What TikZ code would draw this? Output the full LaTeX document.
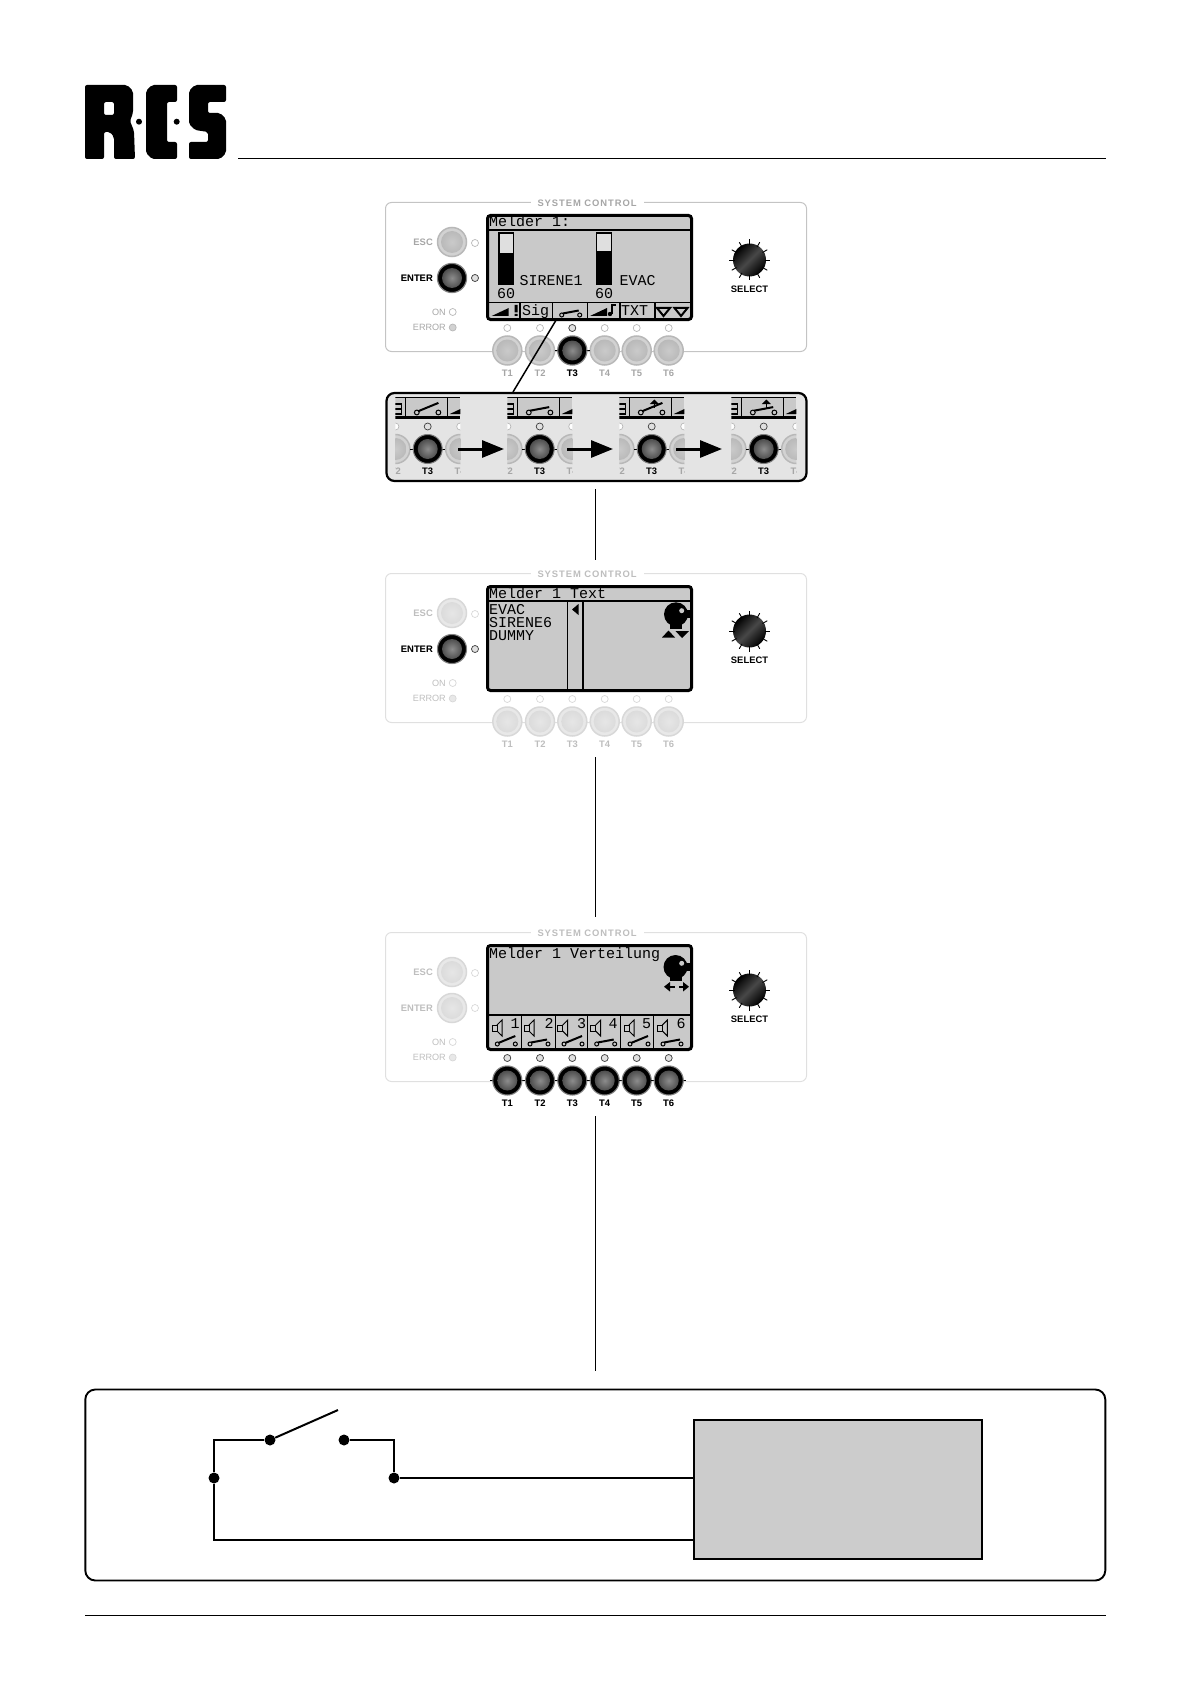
\documentclass[tikz,border=0pt]{standalone}
\usepackage{fontspec}
\setmainfont{Liberation Sans}
\newfontfamily\lcdfont{Liberation Mono}
\newfontfamily\spacedfont[LetterSpace=10]{Liberation Sans}
\usepackage{xcolor}
\usetikzlibrary{arrows.meta,positioning}
\definecolor{lcdgray}{HTML}{C9C9C9}
\definecolor{zoomgray}{HTML}{E4E4E4}
\definecolor{relaygray}{HTML}{CCCCCC}
\definecolor{ghostAline}{HTML}{C4C4C4}
\definecolor{ghostAtext}{HTML}{A6A6A6}
\definecolor{ghostAring}{HTML}{B8B8B8}
\definecolor{ghostApale}{HTML}{D2D2D2}
\definecolor{ghostAin}{HTML}{B4B4B4}
\definecolor{ghostAcore}{HTML}{CACACA}
\definecolor{ghostBline}{HTML}{E0E0E0}
\definecolor{ghostBtext}{HTML}{BEBEBE}
\definecolor{ghostBring}{HTML}{D8D8D8}
\definecolor{ghostBpale}{HTML}{E8E8E8}
\definecolor{ghostBin}{HTML}{D8D8D8}
\definecolor{ghostBcore}{HTML}{E6E6E6}
\tikzset{
  paneledge/.style={
    draw,
    rounded corners=6pt,
    line width=1pt,
    minimum width=421pt,
    minimum height=149pt,
    inner sep=0pt
  },
  paneltitle/.style={
    fill=white,
    inner xsep=7pt,
    inner ysep=0pt,
    font=\spacedfont\fontsize{9.4}{10}\selectfont\bfseries
  },
  lcdscreen/.style={
    draw=black,
    fill=lcdgray,
    rounded corners=3pt,
    line width=3pt,
    minimum width=204pt,
    minimum height=104pt,
    inner sep=0pt
  },
  lcdtext/.style={
    anchor=base west,
    inner sep=0pt,
    font=\lcdfont\fontsize{15}{15}\selectfont
  },
  keyoff/.style={
    circle,
    minimum size=29pt,
    inner sep=0pt,
    draw=ghost#1ring,
    line width=1.5pt,
    fill=ghost#1pale,
    path picture={\shade[inner color=ghost#1core,outer color=ghost#1in]
      (path picture bounding box.center) circle (11pt);}
  },
  keyon/.style={
    circle,
    minimum size=29pt,
    inner sep=0pt,
    draw=gray,
    line width=1pt,
    fill=black,
    path picture={\shade[inner color=gray!90,outer color=black!80]
      (path picture bounding box.center) circle (10pt);}
  },
  led/.style={
    circle,
    minimum size=7pt,
    inner sep=0pt,
    line width=0.7pt,
    fill=white
  },
  keylab/.style={
    inner sep=0pt,
    font=\fontsize{9.4}{10}\selectfont\bfseries
  },
  statelab/.style={
    inner sep=0pt,
    anchor=east,
    font=\fontsize{9.1}{10}\selectfont
  },
  knob/.style={
    circle,
    minimum size=33pt,
    inner sep=0pt,
    shading=axis,
    top color=black,
    bottom color=black,
    middle color=black!72,
    shading angle=45
  },
  wire/.style={line width=2pt, draw=black},
  dot/.style={circle, fill=black, inner sep=0pt, minimum size=11pt},
  flow/.style={-{Triangle[length=22pt,width=17pt]}, line width=3pt, draw=black},
  link/.style={line width=1pt, draw=black},
  swopen/.pic={
    \draw[line width=1pt] (0,0) circle (2) (18,0) circle (2);
    \draw[line width=2pt] (1,-1) -- (18,-8);
  },
  swshut/.pic={
    \draw[line width=1pt] (0,0) circle (2) (18,0) circle (2);
    \draw[line width=2pt] (1,-1.5) -- (17,-4.5);
  },
  liftmark/.pic={
    \draw[line width=1.6pt] (8,-5) -- (8,-9);
    \fill (3.5,-9) -- (12.5,-9) -- (8,-13.5) -- cycle;
  },
  rampicon/.pic={
    \fill (0,0) -- (17,0) -- (17,-8) -- cycle;
  }
}
\newcommand{\devpanel}[3]{
  \begin{scope}[shift={(0,#2)}]
    \node[paneledge, draw=ghost#3line] (#1panel) at (596,277) {};
    \node[paneltitle, text=ghost#3text] (#1title) at (587,203) {SYSTEM CONTROL};
    \node[lcdscreen] (#1lcd) at (589.5,267.5) {};
    \node[keyoff=#3] (#1esc) at (452,242) {};
    \node[keyoff=#3] (#1enter) at (452,278) {};
    \node[led, draw=ghost#3ring] (#1escled) at (475,243) {};
    \node[led, draw=ghost#3ring] (#1enterled) at (475,278) {};
    \node[keylab, anchor=east, text=ghost#3text] (#1esclab) at (433,242) {ESC};
    \node[keylab, anchor=east, text=ghost#3text] (#1enterlab) at (433,278) {ENTER};
    \node[led, draw=ghost#3ring] (#1onled) at (452.7,312) {};
    \node[led, draw=ghost#3ring, fill=ghost#3pale] (#1errled) at (452.7,327.5) {};
    \node[statelab, text=ghost#3text] (#1onlab) at (446,312) {ON};
    \node[statelab, text=ghost#3text] (#1errlab) at (446,327.5) {ERROR};
    \foreach \n/\x in {1/507.3,2/540,3/572.3,4/604.7,5/636.7,6/668.7}{
      \node[keyoff=#3] (#1t\n) at (\x,350.5) {};
      \node[led, draw=ghost#3ring] (#1led\n) at (\x,328) {};
      \node[keylab, text=ghost#3text] (#1lab\n) at (\x,373) {T\n};
    }
    \node[knob] (#1knob) at (749.5,260) {};
    \foreach \a in {0,30,...,330}{
      \draw[line width=0.9pt] (#1knob.center) ++(\a:15) -- ++(\a:5.5);
    }
    \node[keylab] (#1sel) at (749.5,289.5) {SELECT};
  \end{scope}
}
\newcommand{\entryon}[2]{
  \node[keyon] (#1enteron) at (452,#2) {};
  \node[led, draw=black!75, fill=black!12] (#1enteronled) at (475,#2) {};
  \node[keylab, anchor=east] (#1enteronlab) at (433,#2) {ENTER};
}
\newcommand{\softon}[4]{
  \draw[line width=0.8pt] (#2-17.5,#3) -- (#2+17.5,#3);
  \node[keyon] (#1on) at (#2,#3) {};
  \node[led, draw=black!75, fill=black!12] (#1onled) at (#2,#3-22.5) {};
  \node[keylab] (#1onlab) at (#2,#3+22.5) {#4};
}
\begin{document}
\begin{tikzpicture}[x=1pt,y=-1pt]
  \useasboundingbox (0,0) rectangle (1192,1685);

  \fill[even odd rule, rounded corners=2pt] (85,85) -- (127,85) -- (133,91) -- (133,113) -- (130,121) -- (134,131) -- (135,159) -- (114,159) -- (114,137) -- (110,132) -- (104,132) -- (104,159) -- (85,159) -- cycle
    (104,102) -- (114,102) -- (114,115) -- (104,115) -- cycle;
  \fill[rounded corners=2pt] (152,85) -- (177,85) -- (177,102) -- (167,102) -- (167,142) -- (177,142) -- (177,159) -- (152,159) -- (146,153) -- (146,91) -- cycle;
  \fill[rounded corners=2pt] (195,85) -- (226,85) -- (226,102) -- (208,102) -- (208,113) -- (220,113) -- (226,119) -- (226,153) -- (220,159) -- (189,159) -- (189,142) -- (208,142) -- (208,132) -- (195,130) -- (189,124) -- (189,91) -- cycle;
  \fill (139,121.7) circle (3) (176.7,121.7) circle (3);
  \coordinate (headl) at (238,158.5);
  \coordinate (headr) at (1106,158.5);
  \draw[line width=1pt] (headl) -- (headr);

  \devpanel{one}{0}{A}
  \devpanel{two}{371}{B}
  \devpanel{three}{730}{B}
  \entryon{one}{278}
  \entryon{two}{649}
  \softon{onet3}{572.3}{350.5}{T3}
  \foreach \n/\x in {1/507.3,2/540,3/572.3,4/604.7,5/636.7,6/668.7}{
    \softon{threet\n}{\x}{1080.5}{T\n}
  }

  % first screen
  \draw[line width=1.6pt] (487,230) -- (692,230);
  \node[lcdtext] (onehead) at (489,227) {Melder 1:};
  \draw[line width=1.5pt, fill=lcdgray!60] (499,233) rectangle (513.5,284);
  \fill (498.5,253) rectangle (514,284.5);
  \draw[line width=1.5pt, fill=lcdgray!60] (596.5,233) rectangle (611.5,284);
  \fill (596,251) rectangle (612,284.5);
  \node[lcdtext] (onesig) at (519.5,286) {SIRENE1};
  \node[lcdtext] (oneevac) at (619.5,286) {EVAC};
  \node[lcdtext] (oneval) at (497,299) {60};
  \node[lcdtext] (oneval2) at (595,299) {60};
  \draw[line width=1.6pt] (487,302.7) -- (692,302.7);
  \foreach \x in {520,552.3,587.3,620,655}{
    \draw[line width=1.3pt] (\x,302.7) -- (\x,319);
  }
  \pic at (491.7,316) {rampicon};
  \fill (514.5,305) rectangle (517.5,312.5) (514.5,314) rectangle (517.5,316);
  \node[lcdtext] (onesigkey) at (522,316) {Sig};
  \pic at (561.7,315) {swshut};
  \pic at (590,316) {rampicon};
  \fill (610,314) circle (2.2);
  \draw[line width=1.2pt] (612,314) -- (612,305) -- (616,305);
  \node[lcdtext] (onetxt) at (621,316) {TXT};
  \foreach \x in {657,674.5}{
    \draw[line width=2pt] (\x,308) -- (\x+13,308) -- (\x+6.5,316) -- cycle;
  }

  % second screen
  \draw[line width=1.6pt] (487,601) -- (692,601);
  \node[lcdtext] (twohead) at (489,598) {Melder 1 Text};
  \node[lcdtext] (twoev) at (489,614) {EVAC};
  \node[lcdtext] (twosi) at (489,627) {SIRENE6};
  \node[lcdtext] (twodu) at (489,640) {DUMMY};
  \draw[line width=1pt] (567.3,601) -- (567.3,689);
  \draw[line width=2pt] (582.7,601) -- (582.7,689);
  \fill (572,609.5) -- (578.5,604) -- (578.5,615) -- cycle;
  \fill (676,614.3) circle (12);
  \fill (670,624) rectangle (682,628.5);
  \fill (685,610) rectangle (690,618);
  \fill[lcdgray] (681.7,610.7) circle (2.5);
  \fill (662,637.5) -- (675,637.5) -- (668.5,630.5) -- cycle;
  \fill (675.5,631) -- (689,631) -- (682,638) -- cycle;

  % third screen
  \node[lcdtext] (threehead) at (489,958) {Melder 1 Verteilung};
  \fill (675.5,967) circle (12);
  \fill (669.5,977) rectangle (681.5,981);
  \fill (685,963) rectangle (690,971);
  \fill[lcdgray] (681.7,963.3) circle (2.5);
  \draw[line width=2pt] (668,986.7) -- (675,986.7);
  \fill (664,986.7) -- (670,982) -- (670,991.5) -- cycle;
  \draw[line width=2pt] (679,986.7) -- (685,986.7);
  \fill (689,986.7) -- (683,982) -- (683,991.5) -- cycle;
  \draw[line width=1.6pt] (487,1015) -- (692,1015);
  \foreach \x in {521.7,555.7,587.3,620.7,653.3}{
    \draw[line width=1.3pt] (\x,1015) -- (\x,1049);
  }
  \foreach \n/\s/\c/\k/\v in {1/492/515/497.3/swopen,2/524/549/530/swshut,3/557.7/581.7/564/swopen,4/590.7/613/596.7/swshut,5/624/646.7/630/swopen,6/657.3/681/663/swshut}{
    \draw[line width=1pt] (\s,1025) rectangle (\s+5,1031);
    \draw[line width=1pt] (\s+5,1025) -- (\s+10,1020) -- (\s+10,1036) -- (\s+5,1031);
    \node[lcdtext, anchor=base] (threenum\n) at (\c,1028) {\n};
    \pic at (\k,1044) {\v};
  }

  % zoomed softkey frames
  \node[draw=black, fill=zoomgray, rounded corners=8pt, line width=2.2pt, minimum width=420pt, minimum height=88pt, inner sep=0pt] (zoombox) at (596.5,437) {};
  \foreach \f/\x/\i/\u in {a/395.3/swopen/0,b/507.3/swshut/0,c/619.3/swopen/1,d/731.3/swshut/1}{
    \begin{scope}[shift={(\x,0)}]
      \clip (0,396) rectangle (65,480);
      \fill[lcdgray] (0,397) rectangle (65,417);
      \draw[line width=1pt] (0,397) -- (65,397);
      \fill (0,416) rectangle (65,419);
      \draw[line width=1.3pt] (10,397) -- (10,417) (52,397) -- (52,417);
      \draw[line width=1.3pt] (0,404) -- (6,404) -- (6,414) -- (0,414) (0,409) -- (6,409);
      \pic[scale=0.7] at (54.5,414) {rampicon};
      \pic[scale=1.2] at (21.5,412.5) {\i};
      \ifnum\u=1 \pic at (27,413) {liftmark}; \fi
      \node[keyoff=A] (frame\f l) at (0.1,449) {};
      \node[keyoff=A] (frame\f r) at (64.9,449) {};
      \node[led, draw=ghostAring] (frame\f ll) at (0.1,426.5) {};
      \node[led, draw=ghostAring] (frame\f rl) at (64.9,426.5) {};
      \node[keylab, text=ghostAtext] (frame\f lt) at (0.1,471.5) {T2};
      \node[keylab, text=ghostAtext] (frame\f rt) at (64.9,471.5) {T4};
      \softon{frame\f t3}{32.4}{449}{T3}
    \end{scope}
  }
  \coordinate (flowa1) at (458,449);
  \coordinate (flowa2) at (504,449);
  \coordinate (flowb1) at (567,449);
  \coordinate (flowb2) at (613,449);
  \coordinate (flowc1) at (676,449);
  \coordinate (flowc2) at (722,449);
  \draw[flow] (flowa1) -- (flowa2);
  \draw[flow] (flowb1) -- (flowb2);
  \draw[flow] (flowc1) -- (flowc2);

  \coordinate (onetap) at (555.7,320.7);
  \coordinate (zoomtap) at (513,392);
  \draw[line width=1.5pt] (onetap) -- (zoomtap);

  \coordinate (linka1) at (595.5,489);
  \coordinate (linka2) at (595.5,560);
  \coordinate (linkb1) at (595.5,757);
  \coordinate (linkb2) at (595.5,917);
  \coordinate (linkc1) at (595.5,1116);
  \coordinate (linkc2) at (595.5,1371);
  \draw[link] (linka1) -- (linka2);
  \draw[link] (linkb1) -- (linkb2);
  \draw[link] (linkc1) -- (linkc2);

  % wiring box
  \node[draw=black, fill=white, rounded corners=10pt, line width=1.9pt, minimum width=1020pt, minimum height=191pt, inner sep=0pt] (wirebox) at (595.3,1485) {};
  \node[draw=black, fill=relaygray, line width=2pt, minimum width=288pt, minimum height=139pt, inner sep=0pt] (relay) at (838.3,1489.5) {};
  \node[dot] (swa) at (270,1440) {};
  \node[dot] (swb) at (344,1440) {};
  \node[dot] (lowa) at (214,1478) {};
  \node[dot] (lowb) at (394,1478) {};
  \coordinate (swtip) at (338,1410);
  \coordinate (relaylow) at (694.3,1540);
  \draw[wire] (swa) -- (swtip);
  \draw[wire] (lowa) |- (swa);
  \draw[wire] (swb) -| (lowb);
  \draw[wire] (lowb) -- (relay.west |- lowb);
  \draw[wire] (lowa) |- (relaylow);

  \coordinate (footl) at (85,1615.5);
  \coordinate (footr) at (1106,1615.5);
  \draw[line width=1pt] (footl) -- (footr);
\end{tikzpicture}
\end{document}
